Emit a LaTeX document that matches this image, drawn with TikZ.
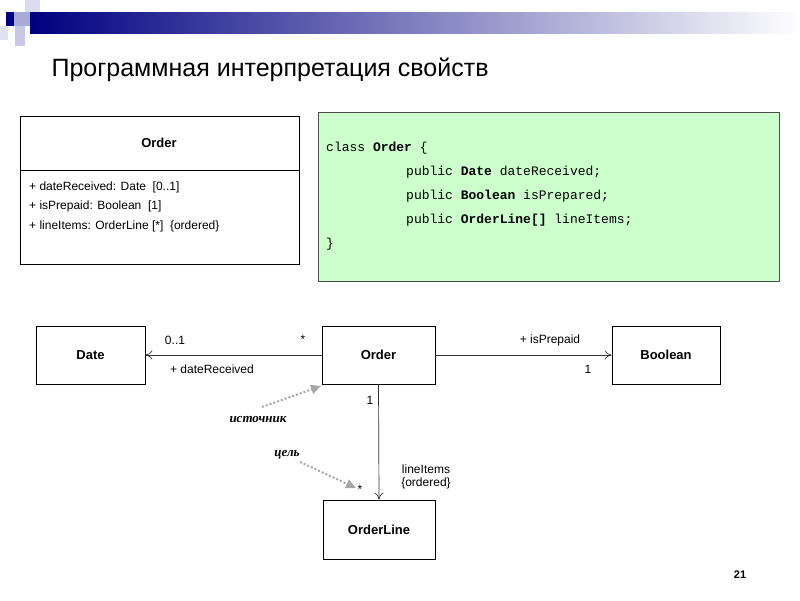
\documentclass[tikz,border=0pt]{standalone}
\usepackage{fontspec}
\setmainfont{Liberation Sans}
\setmonofont{Liberation Mono}
\newfontfamily\handfont{Liberation Serif}
\usetikzlibrary{arrows.meta}
\definecolor{navyc}{RGB}{0,0,128}
\definecolor{lavA}{RGB}{170,170,215}
\definecolor{lavB}{RGB}{220,220,240}
\definecolor{lavC}{RGB}{200,200,230}
\definecolor{lavD}{RGB}{225,225,240}
\definecolor{codegreen}{RGB}{204,255,204}
\begin{document}
\begin{tikzpicture}[x=1pt,y=-1pt,
  assoc/.style={draw=black!80,line width=0.7pt,-{To[length=7pt,width=9pt]}},
  dots/.style={draw=gray!70,line width=2pt,dash pattern=on 2pt off 2pt,-{Triangle[length=10pt,width=9pt]}},
  lbl/.style={font=\fontsize{12}{13}\selectfont,inner sep=1pt},
  ital/.style={font=\handfont\itshape\bfseries\fontsize{13}{14}\selectfont}]
\useasboundingbox (0,0) rectangle (800,600);
\fill[white] (0,0) rectangle (800,600);
% decoration
\shade[left color=navyc, right color=white] (30,12) rectangle (800,33);
\fill[navyc] (6,12) rectangle (14,26);
\fill[lavA] (14,12) rectangle (30,26);
\fill[lavB] (25,0) rectangle (40,12);
\fill[lavC] (15,26) rectangle (25,46);
\fill[lavD] (0,26) rectangle (8,40);
\node[anchor=west,font=\fontsize{25}{28}\selectfont] (title) at (48,70) {Программная интерпретация свойств};
% class box
\node[draw,line width=0.9pt,minimum width=279pt,minimum height=148pt,anchor=north west] (cbox) at (20,116) {};
\draw[line width=0.7pt] (20,170) -- (299,170);
\node[font=\bfseries\fontsize{13}{14}\selectfont] (cname) at (159,143) {Order};
\node[lbl,anchor=west] (a1) at (28,187) {+ dateReceived: Date\ \ [0..1]};
\node[lbl,anchor=west] (a2) at (28,206) {+ isPrepaid: Boolean\ \ [1]};
\node[lbl,anchor=west] (a3) at (28,226) {+ lineItems: OrderLine [*]\ \ \{ordered\}};
% code box
\node[draw=black!70,fill=codegreen,minimum width=461pt,minimum height=169pt,anchor=north west] (code) at (318,112) {};
\begin{scope}[every node/.style={anchor=west,font=\ttfamily\fontsize{13}{14}\selectfont,inner sep=0pt}]
\node (c1) at (326,148) {class \textbf{Order} \{};
\node (c2) at (406,172) {public \textbf{Date} dateReceived;};
\node (c3) at (406,196) {public \textbf{Boolean} isPrepared;};
\node (c4) at (406,220) {public \textbf{OrderLine[]} lineItems;};
\node (c5) at (326,244) {\}};
\end{scope}
% diagram
\begin{scope}[every node/.append style={font=\bfseries\fontsize{13}{14}\selectfont}]
\node[draw,line width=0.9pt,minimum width=109pt,minimum height=58pt] (date) at (90.5,355) {Date};
\node[draw,line width=0.9pt,minimum width=113pt,minimum height=58pt] (order) at (378.5,355) {Order};
\node[draw,line width=0.9pt,minimum width=108pt,minimum height=58pt] (bool) at (666,355) {Boolean};
\node[draw,line width=0.9pt,minimum width=112pt,minimum height=59pt] (ol) at (379,529.5) {OrderLine};
\end{scope}
\draw[assoc] (order) -- (date);
\draw[assoc] (order) -- (bool);
\draw[assoc] (order.south) -- (ol.north);
\node[lbl] (l1) at (175,340) {0..1};
\node[lbl] (l2) at (303,339) {*};
\node[lbl] (l3) at (212,369) {+ dateReceived};
\node[lbl] (l4) at (550,340) {+ isPrepaid};
\node[lbl] (l5) at (588,369) {1};
\node[lbl] (l6) at (370,400) {1};
\node[lbl,align=center] (l7) at (426,477) {lineItems\\\{ordered\}};
\node[lbl] (l8) at (360,489) {*};
\coordinate (s1) at (262,407); \coordinate (t1) at (321,386);
\coordinate (s2) at (300,462); \coordinate (t2) at (356,488);
\draw[dots] (s1) -- (t1);
\draw[dots] (s2) -- (t2);
\node[ital] (src) at (258,420) {источник};
\node[ital] (goal) at (287,455) {цель};
\node[font=\bfseries\fontsize{11}{12}\selectfont] (num) at (740,575) {21};
\end{tikzpicture}
\end{document}
